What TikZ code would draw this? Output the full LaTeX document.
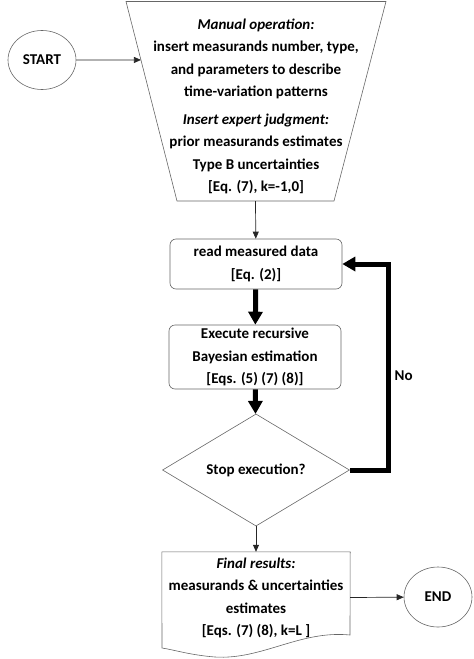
\documentclass[tikz,border=0pt]{standalone}
\usepackage{fontspec}
\setmainfont{Carlito}
\usetikzlibrary{positioning, arrows.meta, shapes.geometric, calc}

\begin{document}
\begin{tikzpicture}[
    x=1pt, y=-1pt,
    font=\fontsize{15}{22.5}\selectfont\bfseries,
    terminal/.style={draw=black!60, line width=0.6pt, ellipse, minimum width=68pt, minimum height=59pt, inner sep=0pt},
    stepbox/.style={draw=black!60, line width=0.6pt, rounded corners=6pt, minimum width=172pt, align=center, inner sep=0pt},
    decision/.style={draw=black!60, line width=0.6pt, diamond, minimum width=187pt, minimum height=77pt, inner sep=0pt},
    label/.style={align=center, inner sep=0pt},
    arrow/.style={-{Triangle[length=7pt, width=6pt]}, line width=0.7pt, color=black!85},
    bigarrow/.style={-{Triangle[length=13pt, width=14pt]}, line width=5pt, color=black}
]

\useasboundingbox (0,0) rectangle (474,659);

%%%%%%%%%%%%%%%%%%%%%
% Manual input (inverted trapezoid)
%%%%%%%%%%%%%%%%%%%%%
\coordinate (tl) at (126,1.5);
\coordinate (tr) at (386,1.5);
\coordinate (br) at (334,201);
\coordinate (bl) at (177,201);
\draw[black!60, line width=0.6pt] (tl) -- (tr) -- (br) -- (bl) -- cycle;

\node[label] (manual) at (256,59)
     {\textit{Manual operation:}\\insert measurands number, type,\\and parameters to describe\\time-variation patterns};
\node[label] (expert) at (256,154)
     {\textit{Insert expert judgment:}\\prior measurands estimates\\Type B uncertainties\\{}[Eq. (7), k=-1,0]};

\coordinate (trapin) at ($(tl)!0.293!(bl)$);
\coordinate (trapout) at ($(bl)!0.5!(br)$);

\node[terminal] (start) at (42,60) {START};
\draw[arrow] (start) -- (trapin);

%%%%%%%%%%%%%%%%%%%%%
% Recursive loop
%%%%%%%%%%%%%%%%%%%%%
\node[stepbox, minimum height=50pt] (read) at (256,264) {read measured data\\{}[Eq. (2)]};
\node[stepbox, minimum height=64pt] (exec) at (255,357)
     {Execute recursive\\Bayesian estimation\\{}[Eqs. (5) (7) (8)]};
\node[decision] (stop) at (256,470) {Stop execution?};

\draw[arrow] (trapout) -- (read);
\draw[bigarrow] (read) -- (exec);
\draw[bigarrow] (exec) -- (stop);
\draw[bigarrow] (stop.east) -- ++(39,0) |- (read.east) node[pos=0.23, right=0pt] {No};

%%%%%%%%%%%%%%%%%%%%%
% Results
%%%%%%%%%%%%%%%%%%%%%
\node[label, minimum width=188pt, minimum height=92pt] (final) at (256,598)
     {\textit{Final results:}\\measurands \& uncertainties\\estimates\\{}[Eqs. (7) (8), k=L ]};
\draw[black!60, line width=0.6pt] (final.north west) -- (final.north east) -- (350,635)
    .. controls (300,630) and (262,660) .. (215,657)
    .. controls (190,655) and (175,650) .. (162,648) -- cycle;

\node[terminal, minimum height=60pt] (finish) at (438,597) {END};

\draw[arrow] (stop) -- (final);
\draw[arrow] (final) -- (finish);

\end{tikzpicture}
\end{document}
